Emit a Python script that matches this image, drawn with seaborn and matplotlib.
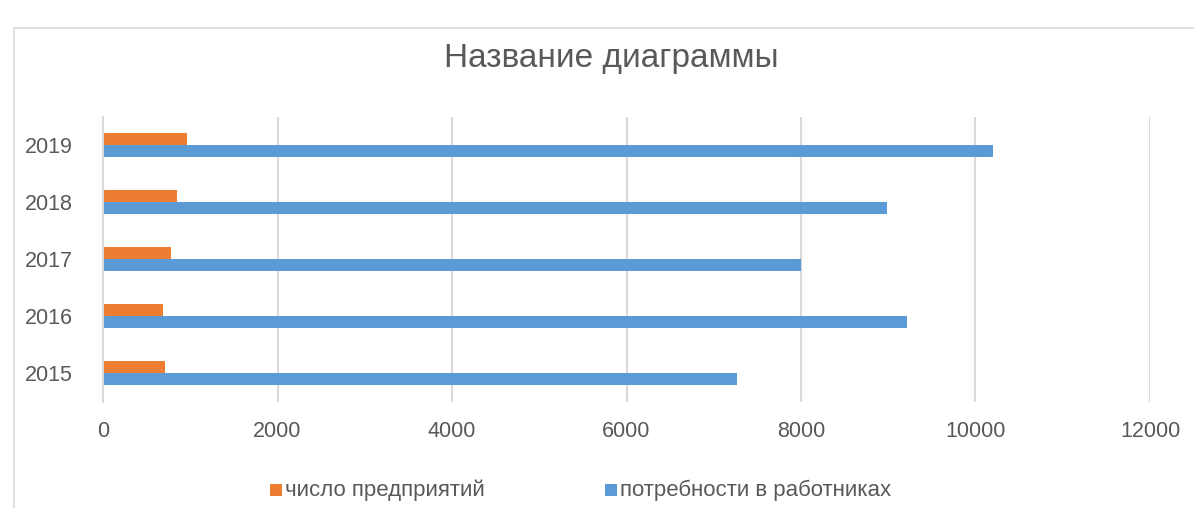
import matplotlib
matplotlib.use("Agg")
import matplotlib.pyplot as plt
import seaborn as sns
import pandas as pd
from matplotlib.patches import Rectangle

years = ["2019", "2018", "2017", "2016", "2015"]
enterprises = [960, 845, 785, 682, 705]
workers_need = [10200, 8980, 8000, 9220, 7270]
series_names = ["число предприятий", "потребности в работниках"]
xticks = [0, 2000, 4000, 6000, 8000, 10000, 12000]
title = "Название диаграммы"

df = pd.DataFrame({
    "year": years * 2,
    "value": enterprises + workers_need,
    "series": [series_names[0]] * len(years) + [series_names[1]] * len(years),
})

sns.set_theme(style="white")
plt.rcParams['font.family'] = ['Liberation Sans Narrow', 'Liberation Sans', 'DejaVu Sans']

fig = plt.figure(figsize=(11.94, 5.08), dpi=100)
ax = fig.add_axes([103/1194, 1-401.5/508, (1150-103)/1194, (401.5-116.5)/508])

palette = {series_names[0]: "#ED7D31", series_names[1]: "#5B9BD5"}
sns.barplot(data=df, x="value", y="year", hue="series", order=years,
            hue_order=series_names, palette=palette, width=0.42,
            saturation=1, ax=ax, legend=False, linewidth=0, edgecolor="none")

ax.set_xlim(0, 12000)
ax.set_ylim(4.5, -0.5)
ax.set_xticks(xticks)
ax.set_xticklabels([str(t) for t in xticks])
ax.xaxis.grid(True, color="#d9d9d9", linewidth=1.5)
ax.yaxis.grid(False)
ax.set_axisbelow(True)
for s in ["top", "right", "bottom"]:
    ax.spines[s].set_visible(False)
ax.spines["left"].set_color("#d9d9d9")
ax.spines["left"].set_linewidth(1.5)
ax.tick_params(axis="both", length=0, labelsize=15.5, colors="#595959")
ax.tick_params(axis="x", pad=14)
ax.tick_params(axis="y", pad=22)
ax.set_xlabel("")
ax.set_ylabel("")

fig.text(611/1194, 1-59/508, title, ha="center", va="center",
         fontsize=24, color="#595959")

# chart frame
fig.patches.append(Rectangle((14/1194, -0.1), 1.2, 1-28/508+0.1,
                             transform=fig.transFigure, fill=False,
                             edgecolor="#d9d9d9", linewidth=1.2))

# legend
ly = 1-490/508
for (x0, name) in [(270, series_names[0]), (605, series_names[1])]:
    fig.patches.append(Rectangle((x0/1194, ly-6/508), 12/1194, 12/508,
                                 transform=fig.transFigure,
                                 facecolor=palette[name], edgecolor="none"))
    fig.text((x0+15)/1194, ly, name, ha="left", va="center",
             fontsize=16, color="#595959")

fig.savefig("out.png", dpi=100)
